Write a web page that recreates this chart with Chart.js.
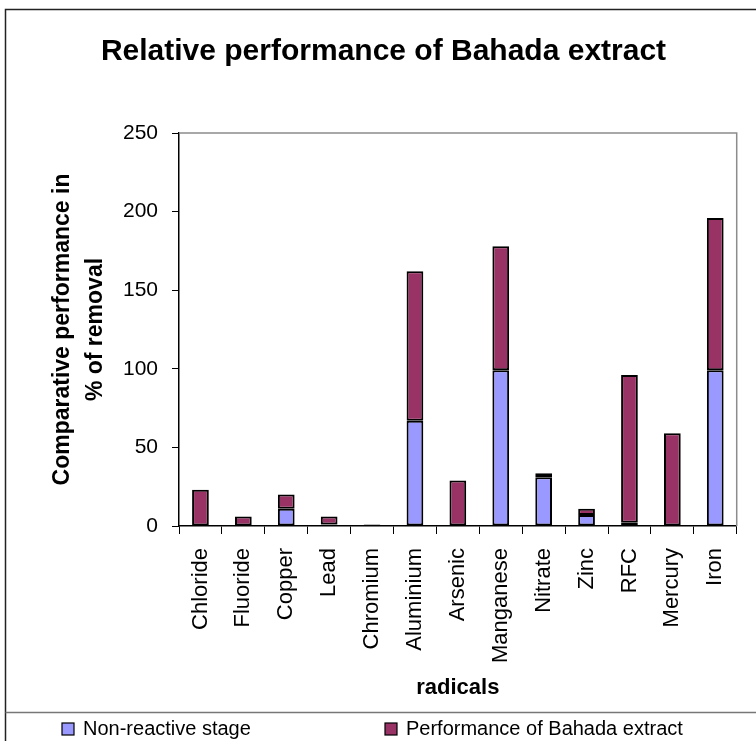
<!DOCTYPE html>
<html>
<head>
<meta charset="utf-8">
<script src="https://cdn.jsdelivr.net/npm/chart.js@4.4.0/dist/chart.umd.min.js"></script>
<style>
  html, body { margin: 0; padding: 0; background: #fff; }
  #wrap { width: 756px; height: 741px; }
</style>
</head>
<body>
<div id="wrap"><canvas id="chart" width="756" height="741"></canvas></div>
<script>
// Datos
const radicals = ['Chloride', 'Fluoride', 'Copper', 'Lead', 'Chromium', 'Aluminium', 'Arsenic',
                  'Manganese', 'Nitrate', 'Zinc', 'RFC', 'Mercury', 'Iron'];
const nonReactive = [0, 0, 11, 1, 0, 67, 0, 99, 31, 7, 2, 0, 99];
const bahadaExtract = [23, 6, 9, 5, 1, 95, 29, 79, 2.5, 4, 94, 59, 97];
const yTicks = [0, 50, 100, 150, 200, 250];

const FONT = 'Arial, "Liberation Sans", sans-serif';

// los ceros no se dibujan (evita bordes sueltos sobre el eje)
const noZero = arr => arr.map(v => (v === 0 ? null : v));

// Marco exterior, bordes grises del area y leyenda manual
const framePlugin = {
    id: 'frame',
    afterDraw(chart) {
        const { ctx, chartArea: a } = chart;
        ctx.save();

        // bordes superior y derecho del area de trazado
        ctx.strokeStyle = '#8c8c8c';
        ctx.lineWidth = 1.5;
        ctx.beginPath();
        ctx.moveTo(a.left, a.top);
        ctx.lineTo(a.right, a.top);
        ctx.lineTo(a.right, a.bottom);
        ctx.stroke();

        // marco del grafico
        ctx.strokeStyle = '#222';
        ctx.lineWidth = 1.5;
        ctx.beginPath();
        ctx.moveTo(5.5, 741);
        ctx.lineTo(5.5, 9.5);
        ctx.lineTo(756, 9.5);
        ctx.stroke();

        // separador de la leyenda
        ctx.strokeStyle = '#777';
        ctx.beginPath();
        ctx.moveTo(5.5, 712.5);
        ctx.lineTo(756, 712.5);
        ctx.stroke();

        // leyenda
        const items = [
            { x: 62, ds: chart.data.datasets[0] },
            { x: 385, ds: chart.data.datasets[1] }
        ];
        ctx.font = '20px ' + FONT;
        ctx.textBaseline = 'middle';
        ctx.textAlign = 'left';
        items.forEach(it => {
            ctx.fillStyle = it.ds.backgroundColor;
            ctx.fillRect(it.x, 723, 12, 12);
            ctx.strokeStyle = '#000';
            ctx.lineWidth = 1.2;
            ctx.strokeRect(it.x, 723, 12, 12);
            ctx.fillStyle = '#000';
            ctx.fillText(it.ds.label, it.x + 21, 729.5);
        });

        ctx.restore();
    }
};

const ctx = document.getElementById('chart');

new Chart(ctx, {
    type: 'bar',
    data: {
        labels: radicals,
        datasets: [
            {
                label: 'Non-reactive stage',
                data: noZero(nonReactive),
                backgroundColor: '#9999FF',
                borderColor: '#000',
                borderWidth: 2,
                borderSkipped: false
            },
            {
                label: 'Performance of Bahada extract',
                data: noZero(bahadaExtract),
                backgroundColor: '#993366',
                borderColor: '#000',
                borderWidth: 2,
                borderSkipped: false
            }
        ]
    },
    options: {
        responsive: false,
        animation: false,
        layout: { padding: { left: 20, right: 9, top: 0, bottom: 29 } },
        datasets: {
            bar: { categoryPercentage: 1, barPercentage: 0.39 }
        },
        plugins: {
            legend: { display: false },
            tooltip: { enabled: false },
            title: {
                display: true,
                text: 'Relative performance of Bahada extract',
                color: '#000',
                font: { family: FONT, size: 30, weight: 'bold', lineHeight: 1.2 },
                padding: { top: 34, bottom: 63 }
            }
        },
        scales: {
            x: {
                stacked: true,
                afterFit: (scale) => { scale.height = 186; },
                grid: {
                    display: true,
                    drawOnChartArea: false,
                    drawTicks: true,
                    tickLength: 8,
                    color: '#000',
                    offset: true
                },
                border: { display: true, color: '#000', width: 1.5 },
                ticks: {
                    color: '#000',
                    font: { family: FONT, size: 22 },
                    minRotation: 90,
                    maxRotation: 90,
                    autoSkip: false,
                    padding: 14
                },
                title: {
                    display: true,
                    text: 'radicals',
                    color: '#000',
                    font: { family: FONT, size: 22, weight: 'bold', lineHeight: 1.2 },
                    padding: { top: 0, bottom: 11 }
                }
            },
            y: {
                stacked: true,
                min: 0,
                max: 250,
                afterFit: (scale) => { scale.width = 159; },
                afterBuildTicks: (scale) => { scale.ticks = yTicks.map(v => ({ value: v })); },
                grid: {
                    display: true,
                    drawOnChartArea: false,
                    drawTicks: true,
                    tickLength: 7,
                    color: '#000'
                },
                border: { display: true, color: '#000', width: 1.5 },
                ticks: {
                    color: '#000',
                    font: { family: FONT, size: 21 },
                    padding: 14
                },
                title: {
                    display: true,
                    text: ['Comparative performance in', '% of removal'],
                    color: '#000',
                    font: { family: FONT, size: 23, weight: 'bold', lineHeight: 1.4 },
                    padding: { top: 27, bottom: 0 }
                }
            }
        }
    },
    plugins: [framePlugin]
});
</script>
</body>
</html>
